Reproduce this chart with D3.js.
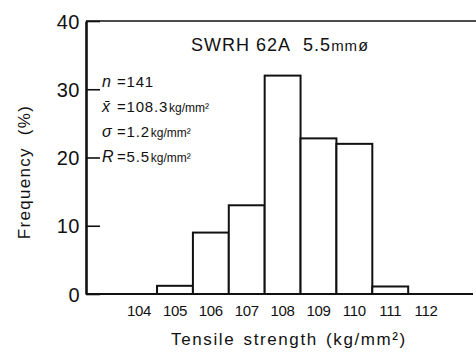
<!DOCTYPE html>
<html>
<head>
<meta charset="utf-8">
<script src="https://cdn.jsdelivr.net/npm/d3@7"></script>
<style>
  body { margin: 0; background: #fff; }
  svg text { font-family: "Liberation Sans", Arial, sans-serif; fill: #111; }
</style>
</head>
<body>
<div id="my_dataviz_tensile"></div>
<script>
// data
const binCenters = [105, 106, 107, 108, 109, 110, 111];
const frequency = [1.2, 9.0, 13.0, 32.0, 22.8, 22.0, 1.1];
const xTickValues = [104, 105, 106, 107, 108, 109, 110, 111, 112];
const yTickValues = [0, 10, 20, 30, 40];
const titleText = "SWRH 62A\u00a0\u00a05.5";
const statSymbols = ["n", "x̄", "σ", "R"];
const statValues = ["141", "108.3", "1.2", "5.5"];
const statUnits = ["", "kg/mm²", "kg/mm²", "kg/mm²"];

const width = 476, height = 356;

const svg = d3.select("#my_dataviz_tensile")
  .append("svg")
    .attr("width", width)
    .attr("height", height);

const x = d3.scaleLinear()
  .domain([102.52, 113.39])
  .range([86, 476]);

const y = d3.scaleLinear()
  .domain([0, 40])
  .range([294, 21]);

// bars
svg.selectAll("rect.bar")
  .data(binCenters)
  .join("rect")
    .attr("class", "bar")
    .attr("x", d => x(d - 0.5))
    .attr("y", (d, i) => y(frequency[i]))
    .attr("width", d => x(d + 0.5) - x(d - 0.5))
    .attr("height", (d, i) => y(0) - y(frequency[i]))
    .style("fill", "#fff")
    .style("stroke", "#111")
    .style("stroke-width", 2);

// frame: top and bottom lines
svg.append("line")
  .attr("x1", x.range()[0]).attr("x2", 476)
  .attr("y1", y(40)).attr("y2", y(40))
  .style("stroke", "#111").style("stroke-width", 1.6);

svg.append("line")
  .attr("x1", x.range()[0]).attr("x2", 473)
  .attr("y1", y(0)).attr("y2", y(0))
  .style("stroke", "#111").style("stroke-width", 2);

// y axis, ticks pointing inward
const yAxis = svg.append("g")
  .attr("transform", `translate(${x.range()[0]},0)`)
  .call(d3.axisLeft(y).tickValues(yTickValues).tickSize(-14).tickPadding(7).tickSizeOuter(0));
yAxis.select(".domain").style("stroke", "#111").style("stroke-width", 2.6);
yAxis.selectAll(".tick line").style("stroke", "#111").style("stroke-width", 1.6);
yAxis.selectAll(".tick text")
  .style("font-size", "20px")
  .style("letter-spacing", "0.5px")
  .attr("dy", "0.36em")
  .attr("x", -6);

// x tick labels (no tick marks)
svg.append("g")
  .selectAll("text")
  .data(xTickValues)
  .join("text")
    .attr("x", d => x(d))
    .attr("y", 316)
    .style("text-anchor", "middle")
    .style("font-size", "15px")
    .style("letter-spacing", "-0.3px")
    .text(d => d);

// axis titles
svg.append("text")
  .attr("x", 289)
  .attr("y", 345)
  .style("text-anchor", "middle")
  .style("font-size", "17px")
  .style("letter-spacing", "1.6px")
  .style("word-spacing", "2px")
  .text("Tensile strength (kg/mm²)");

svg.append("text")
  .attr("transform", "rotate(-90)")
  .attr("x", -172)
  .attr("y", 30)
  .style("text-anchor", "middle")
  .style("font-size", "17px")
  .style("letter-spacing", "1.3px")
  .text("Frequency\u00a0\u00a0(%)");

// title
const title = svg.append("text")
  .attr("x", 280)
  .attr("y", 51)
  .style("text-anchor", "middle")
  .style("font-size", "18px")
  .style("letter-spacing", "1px");
title.append("tspan").text(titleText);
title.append("tspan").style("font-size", "15px").text("mm");
title.append("tspan").style("font-size", "16px").text("ø");

// statistics block
const stats = svg.append("g")
  .selectAll("text")
  .data(statSymbols)
  .join("text")
    .attr("x", 102)
    .attr("y", (d, i) => 87 + i * 25)
    .style("font-size", "15px");
stats.append("tspan")
  .style("font-style", "italic")
  .style("font-size", "16px")
  .text(d => d);
stats.append("tspan")
  .attr("x", 117)
  .style("letter-spacing", "0.8px")
  .text((d, i) => "=" + statValues[i]);
stats.append("tspan")
  .attr("dx", 1)
  .style("font-size", "12px")
  .text((d, i) => statUnits[i]);
</script>
</body>
</html>
